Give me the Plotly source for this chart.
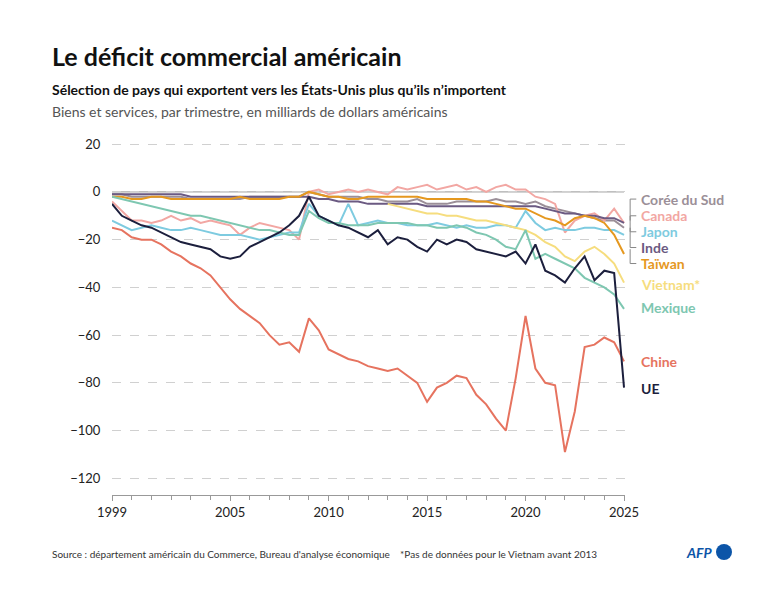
import plotly.graph_objects as go

years = [1999 + 0.5 * i for i in range(53)]
years_vn = [2013 + 0.5 * i for i in range(25)]

chine = [-15,-16,-19,-20,-20,-22,-25,-27,-30,-32,-35,-40,-45,-49,-52,-55,-60,-64,-63,-67,
         -53,-58,-66,-68,-70,-71,-73,-74,-75,-74,-77,-80,-88,-82,-80,-77,-78,-85,-89,-95,
         -100,-78,-52,-74,-80,-81,-109,-92,-65,-64,-61,-63,-71]
ue = [-5,-10,-12,-14,-15,-17,-19,-21,-22,-23,-24,-27,-28,-27,-23,-21,-19,-17,-14,-10,
      -2,-10,-12,-14,-15,-17,-19,-16,-22,-19,-20,-23,-25,-20,-22,-20,-21,-24,-25,-26,
      -27,-25,-30,-22,-33,-35,-38,-32,-27,-37,-33,-34,-82]
mexique = [-2,-3,-4,-5,-6,-7,-8,-9,-10,-10,-11,-12,-13,-14,-15,-16,-16,-17,-18,-18,
           -8,-11,-13,-13,-14,-14,-14,-13,-13,-13,-13,-14,-14,-15,-15,-14,-15,-17,-18,-20,
           -23,-24,-16,-28,-26,-28,-30,-32,-36,-38,-40,-43,-49]
japon = [-12,-14,-16,-15,-14,-15,-16,-16,-15,-16,-17,-18,-18,-18,-19,-20,-19,-18,-17,-17,
         -5,-10,-12,-14,-5,-14,-13,-12,-13,-13,-14,-14,-14,-13,-14,-15,-14,-15,-15,-14,
         -14,-15,-8,-13,-16,-15,-16,-16,-15,-15,-16,-16,-18]
canada = [-4,-8,-12,-12,-13,-12,-10,-12,-11,-13,-12,-13,-14,-18,-15,-13,-14,-15,-16,-20,
          0,1,-1,0,1,0,1,0,-1,2,1,2,3,1,2,3,1,2,0,2,
          3,1,1,-2,-3,-5,-17,-12,-10,-9,-12,-7,-13]
coree = [-1,-1,-2,-2,-2,-2,-2,-2,-3,-3,-3,-3,-3,-3,-2,-2,-2,-2,-2,-2,
         0,-1,-2,-2,-2,-2,-3,-3,-4,-4,-4,-3,-5,-5,-5,-4,-4,-4,-4,-3,
         -4,-4,-5,-4,-6,-7,-8,-9,-10,-11,-12,-12,-15]
inde = [-1,-1,-1,-1,-1,-1,-1,-1,-2,-2,-2,-2,-2,-2,-2,-2,-2,-2,-2,-2,
        -2,-3,-3,-4,-4,-4,-5,-5,-5,-5,-5,-5,-6,-6,-6,-6,-6,-6,-6,-6,
        -6,-6,-6,-6,-7,-8,-9,-9,-10,-10,-11,-11,-13]
taiwan = [-2,-2,-3,-3,-2,-2,-3,-3,-3,-3,-3,-3,-3,-2,-3,-3,-3,-3,-2,-2,
          0,-1,-2,-2,-3,-3,-2,-2,-2,-2,-2,-2,-3,-3,-3,-3,-3,-4,-4,-5,
          -6,-7,-7,-9,-11,-12,-14,-11,-10,-11,-13,-18,-26]
vietnam = [-5,-6,-7,-8,-9,-9,-10,-10,-11,-12,-12,-13,-14,-15,-16,-18,-21,-23,-27,-29,
           -25,-23,-26,-30,-38]

series = [
    ("Corée du Sud", years, coree, "#9b8f98", -3),
    ("Canada", years, canada, "#f2a7a3", -10),
    ("Japon", years, japon, "#7ecbe0", -16.7),
    ("Inde", years, inde, "#6b5a82", -23.3),
    ("Taïwan", years, taiwan, "#e5981f", -30),
    ("Vietnam*", years_vn, vietnam, "#f6dd7e", -39),
    ("Mexique", years, mexique, "#7ec7b1", -48.5),
    ("Chine", years, chine, "#e6735f", -71),
    ("UE", years, ue, "#1c1f3d", -82.5),
]

FONT = "Lato"
L, R, T, B = 104, 151, 135, 104
PW, PH = 768 - L - R, 591 - T - B


def px(x, y):
    return (x - L) / PW, (591 - B - y) / PH


fig = go.Figure()
for name, xs, ys, col, ly in series:
    fig.add_trace(go.Scatter(x=xs, y=ys, mode="lines", name=name,
                             line=dict(color=col, width=2), showlegend=False,
                             hoverinfo="skip"))
    fig.add_annotation(x=1.027, xref="paper", y=ly, yref="y", text=f"<b>{name}</b>",
                       showarrow=False, xanchor="left", yanchor="middle",
                       font=dict(family=FONT, size=14, color=col))

for ly, endv in [(-3, -12), (-10, -13), (-16.7, -15), (-23.3, -13), (-30, -24)]:
    fig.add_shape(type="line", xref="paper", yref="y", x0=1.01, x1=1.01, y0=endv, y1=ly,
                  line=dict(color="#888", width=1))
    fig.add_shape(type="line", xref="paper", yref="y", x0=1.01, x1=1.022, y0=ly, y1=ly,
                  line=dict(color="#888", width=1))

fig.add_shape(type="line", xref="x", yref="y", x0=1999, x1=2025, y0=0, y1=0,
              line=dict(color="#aaa", width=1.2), layer="below")

fig.update_layout(
    width=768, height=591, plot_bgcolor="white", paper_bgcolor="white",
    margin=dict(l=L, r=R, t=T, b=B),
    font=dict(family=FONT, color="#333"),
    xaxis=dict(range=[1999, 2025.05], tickvals=[1999, 2005, 2010, 2015, 2020, 2025],
               showgrid=False, showline=True, linecolor="#999", ticks="outside",
               tickcolor="#999", ticklen=5, tickfont=dict(size=13, color="#222"),
               minor=dict(dtick=1, ticks="outside", ticklen=4, tickcolor="#999"),
               zeroline=False),
    yaxis=dict(range=[-127, 20.5], tickvals=[20, 0, -20, -40, -60, -80, -100, -120],
               showgrid=True, gridcolor="#d0d0d0", griddash="dash", gridwidth=1,
               zeroline=False, tickfont=dict(size=13, color="#222"), ticklen=8,
               ticks="outside", tickcolor="white"),
)


def text(x, y, s, size, color, anchor="left"):
    ax, ay = px(x, y)
    fig.add_annotation(x=ax, y=ay, xref="paper", yref="paper", text=s, showarrow=False,
                       xanchor=anchor, yanchor="middle",
                       font=dict(family=FONT, size=size, color=color))


text(42, 48, "<b>Le déficit commercial américain</b>", 25, "#111")
text(42, 82, "<b>Sélection de pays qui exportent vers les États-Unis plus qu’ils n’importent</b>", 14, "#111")
text(42, 103, "Biens et services, par trimestre, en milliards de dollars américains", 14, "#555")
text(42, 546, "Source : département américain du Commerce, Bureau d'analyse économique    *Pas de données pour le Vietnam avant 2013", 10, "#333")
text(707, 544, "<b><i>AFP</i></b>", 14, "#0c55a8", anchor="right")
x0, y0 = px(708, 552)
x1, y1 = px(724, 536)
fig.add_shape(type="circle", xref="paper", yref="paper", x0=x0, x1=x1, y0=y0, y1=y1,
              fillcolor="#0c55a8", line=dict(width=0))

fig.write_html("out.html")
